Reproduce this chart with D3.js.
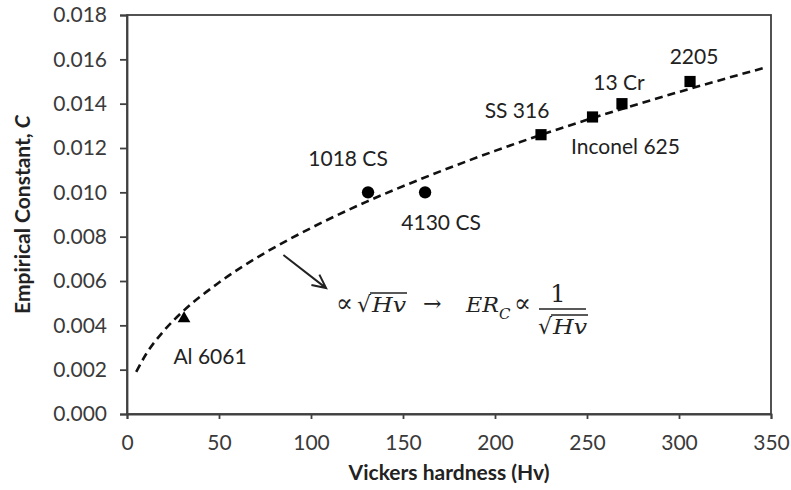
<!DOCTYPE html>
<html><head><meta charset="utf-8">
<script src="https://cdn.jsdelivr.net/npm/d3@7"></script>
<style>body{margin:0;background:#fff}svg{display:block}</style>
</head><body><svg id="chart" width="791" height="490"></svg>
<script>
// ---- data ----
const materials = ["Al 6061", "1018 CS", "4130 CS", "SS 316", "Inconel 625", "13 Cr", "2205"];
const hardness = [31, 131, 162, 225, 253, 269, 306];
const constantC = [0.0043, 0.0100, 0.0100, 0.0126, 0.0134, 0.0140, 0.0150];
const markerShapes = ["triangle", "circle", "circle", "square", "square", "square", "square"];
// trend line
const fitHardness = [5, 10, 20, 30, 50, 75, 100, 130, 160, 200, 250, 300, 346];
const fitC = [0.0019, 0.00265, 0.00375, 0.0046, 0.00593, 0.00727, 0.00839, 0.00957, 0.01061, 0.01187, 0.01327, 0.01453, 0.01561];
const xTicks = [0, 50, 100, 150, 200, 250, 300, 350];
const yTicks = [0, 0.002, 0.004, 0.006, 0.008, 0.010, 0.012, 0.014, 0.016, 0.018];
const xTitle = "Vickers hardness (Hv)";
const yTitle = "Empirical Constant, ";
const yTitleItalic = "C";

// ---- layout / style ----
const labelOffsets = [[26, 37], [-20, -35], [16, 29], [-24, -25], [33, 29], [-3, -22], [4, -26]];
const axisColor = "#404040";
const textColor = "#3a3a3a";
const sans = "Lato, 'Open Sans', sans-serif";
const serif = "'DejaVu Serif', 'Liberation Serif', serif";

const svg = d3.select("#chart");
const L = 127, R = 771, T = 15, B = 414;
const x = d3.scaleLinear().domain([0, 350]).range([L, R]);
const y = d3.scaleLinear().domain([0, 0.018]).range([B, T]);

// frame
svg.append("rect").attr("x", L).attr("y", T).attr("width", R - L).attr("height", B - T)
  .attr("fill", "none").attr("stroke", axisColor).attr("stroke-width", 1.8);

// axes
const xAxis = svg.append("g").attr("transform", `translate(0,${B})`)
  .call(d3.axisBottom(x).tickValues(xTicks).tickSize(5).tickPadding(16).tickFormat(d3.format("d")));
const yAxis = svg.append("g").attr("transform", `translate(${L},0)`)
  .call(d3.axisLeft(y).tickValues(yTicks).tickSize(7).tickPadding(13).tickFormat(d3.format(".3f")));
[xAxis, yAxis].forEach(g => {
  g.select(".domain").attr("stroke", axisColor).attr("stroke-width", 1.8);
  g.selectAll(".tick line").attr("stroke", axisColor).attr("stroke-width", 1.8);
  g.selectAll(".tick text").attr("fill", textColor).style("font-family", sans).style("font-size", "21px");
});

// titles
svg.append("text").attr("x", (L + R) / 2).attr("y", 480).attr("text-anchor", "middle")
  .style("font-family", sans).style("font-size", "21px").style("font-weight", "bold").attr("fill", "#222")
  .text(xTitle);
const yt = svg.append("text").attr("transform", `translate(30,${(T + B) / 2}) rotate(-90)`).attr("text-anchor", "middle")
  .style("font-family", sans).style("font-size", "21px").style("font-weight", "bold").attr("fill", "#222");
yt.append("tspan").text(yTitle);
yt.append("tspan").style("font-style", "italic").text(yTitleItalic);

// trend line
const fitData = fitHardness.map((h, i) => [h, fitC[i]]);
svg.append("path").datum(fitData)
  .attr("d", d3.line().x(d => x(d[0])).y(d => y(d[1])).curve(d3.curveMonotoneX))
  .attr("fill", "none").attr("stroke", "#111").attr("stroke-width", 2.6).attr("stroke-dasharray", "8,5");

// markers
const symbolType = { triangle: d3.symbolTriangle, circle: d3.symbolCircle, square: d3.symbolSquare };
const symbolSize = { triangle: 70, circle: 120, square: 125 };
const pts = materials.map((m, i) => ({ m, h: hardness[i], c: constantC[i], s: markerShapes[i], o: labelOffsets[i] }));
svg.selectAll("path.pt").data(pts).join("path").attr("class", "pt")
  .attr("transform", d => `translate(${x(d.h)},${y(d.c)})`)
  .attr("d", d => d3.symbol(symbolType[d.s], symbolSize[d.s])())
  .attr("fill", "#000");
svg.selectAll("text.lab").data(pts).join("text").attr("class", "lab")
  .attr("x", d => x(d.h) + d.o[0]).attr("y", d => y(d.c) + d.o[1])
  .attr("text-anchor", "middle").attr("dominant-baseline", "central")
  .style("font-family", sans).style("font-size", "21px").attr("fill", "#222")
  .text(d => d.m);

// arrow annotation (data coords)
const arrowFrom = [85, 0.00717], arrowTo = [108.2, 0.00568];
const ax0 = x(arrowFrom[0]), ay0 = y(arrowFrom[1]), ax1 = x(arrowTo[0]), ay1 = y(arrowTo[1]);
const ang = Math.atan2(ay1 - ay0, ax1 - ax0), hl = 15, ha = Math.PI / 7;
svg.append("path")
  .attr("d", `M${ax0},${ay0}L${ax1},${ay1}M${ax1 - hl * Math.cos(ang - ha)},${ay1 - hl * Math.sin(ang - ha)}L${ax1},${ay1}L${ax1 - hl * Math.cos(ang + ha)},${ay1 - hl * Math.sin(ang + ha)}`)
  .attr("fill", "none").attr("stroke", "#222").attr("stroke-width", 2);

// formula
const f = svg.append("g").attr("fill", "#222").style("font-family", serif).style("font-size", "21px");
function txt(t, xx, yy, opts = {}) {
  const e = f.append("text").attr("x", xx).attr("y", yy).text(t);
  if (opts.italic) e.style("font-style", "italic");
  if (opts.size) e.style("font-size", opts.size + "px");
  if (opts.anchor) e.attr("text-anchor", opts.anchor);
  if (opts.len) e.attr("textLength", opts.len).attr("lengthAdjust", "spacingAndGlyphs");
  return e;
}
function sqrtHv(x0, base) {
  const r = txt("√", x0, base, { size: 22 });
  const rw = r.node().getComputedTextLength();
  txt("Hv", x0 + rw + 1, base, { italic: true, len: 34 });
  f.append("line").attr("x1", x0 + rw - 1).attr("x2", x0 + rw + 36).attr("y1", base - 19).attr("y2", base - 19)
    .attr("stroke", "#222").attr("stroke-width", 1.5);
}
txt("∝", 336, 312, { size: 26, len: 17 });
sqrtHv(357, 312);
txt("→", 423, 311, { size: 22 });
const er = txt("ER", 466, 312, { italic: true, len: 33 });
txt("C", 499, 319, { italic: true, size: 15 });
txt("∝", 514, 312, { size: 26, len: 17 });
txt("1", 558, 302, { anchor: "middle", size: 24 });
f.append("line").attr("x1", 539).attr("x2", 586).attr("y1", 309).attr("y2", 309).attr("stroke", "#222").attr("stroke-width", 1.5);
sqrtHv(538, 334);
</script></body></html>
